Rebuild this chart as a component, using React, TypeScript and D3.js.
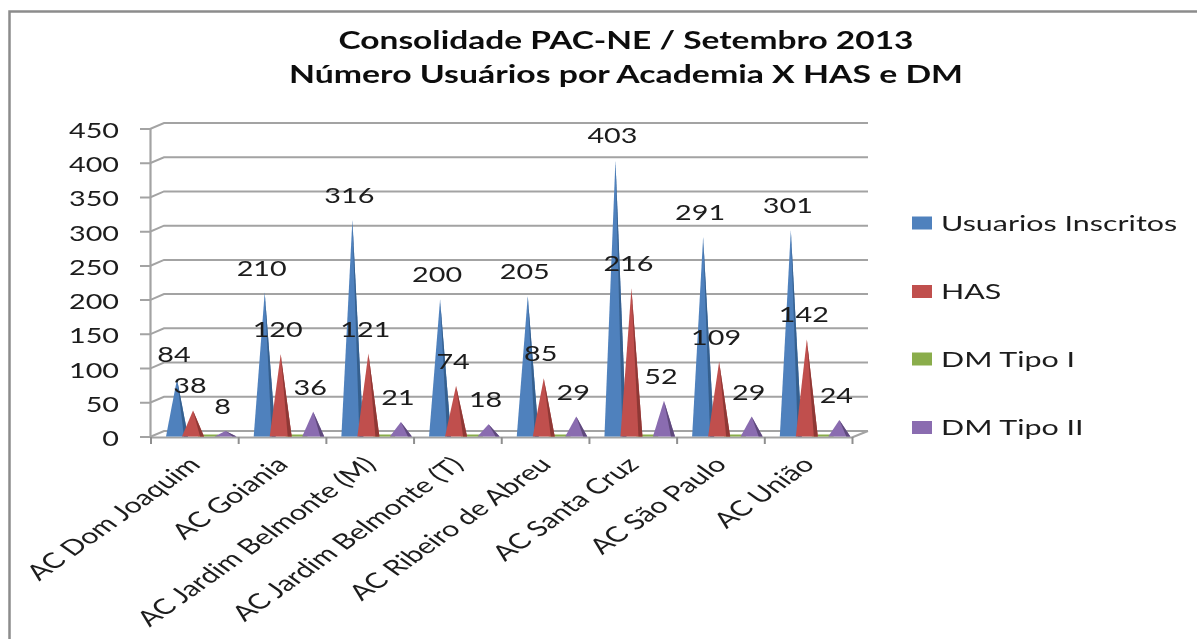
import React from "react";
import * as d3 from "d3";

const categories = ["AC Dom Joaquim", "AC Goiania", "AC Jardim Belmonte (M)", "AC Jardim Belmonte (T)", "AC Ribeiro de Abreu", "AC Santa Cruz", "AC São Paulo", "AC União"];
const usuarios = [84, 210, 316, 200, 205, 403, 291, 301];
const has = [38, 120, 121, 74, 85, 216, 109, 142];
const dmTipoI = [3, 3, 3, 3, 3, 3, 3, 3];
const dmTipoII = [8, 36, 21, 18, 29, 52, 29, 24];
const yTicks = [0, 50, 100, 150, 200, 250, 300, 350, 400, 450];
const titleLines = ["Consolidade PAC-NE / Setembro 2013", "Número Usuários por Academia X HAS e DM"];

const series = [
  { name: "Usuarios Inscritos", values: usuarios, color: "#4f81bd", dark: "#36608f", offset: 26, labelled: true, flat: false },
  { name: "DM Tipo I", values: dmTipoI, color: "#8aad4c", dark: "#6f8a3a", offset: 58, labelled: false, flat: true },
  { name: "HAS", values: has, color: "#c0504d", dark: "#8f3836", offset: 42, labelled: true, flat: false },
  { name: "DM Tipo II", values: dmTipoII, color: "#8a6cb0", dark: "#5f4a7c", offset: 74.5, labelled: true, flat: false },
];
const legendOrder = ["Usuarios Inscritos", "HAS", "DM Tipo I", "DM Tipo II"];
const legendY = [223, 291.5, 359, 427.5];

const W = 1197, H = 639;
const SX = 1.37;
const font = "Lato, Carlito, sans-serif";
const ink = "#1c1c1c";
const grid = "#a3a3a3";
const DX = 14, DY = -6;

const yFront = d3.scaleLinear().domain([0, 450]).range([437, 129]);
const yCone = d3.scaleLinear().domain([0, 450]).range([436.5, 128]);
const x = d3.scaleBand<string>().domain(categories).range([151, 852.5]);

function Stretched(p: { x: number; y: number; text: string; anchor?: string; size?: number; rotate?: number; weight?: number; sx?: number }) {
  const r = p.rotate ? ` rotate(${p.rotate})` : "";
  return (
    <text transform={`translate(${p.x},${p.y}) scale(${p.sx ?? SX},1)${r}`} textAnchor={p.anchor ?? "start"} fontFamily={font} fontSize={p.size ?? 21} fontWeight={p.weight ?? 400} fill={ink}>
      {p.text}
    </text>
  );
}

export default function App() {
  const halfBase = 11;
  return (
    <svg width={W} height={H} style={{ position: "fixed", left: 0, top: 0, background: "#fff" }}>
      <defs>
        <filter id="soft" x="0" y="0" width={W} height={H} filterUnits="userSpaceOnUse">
          <feGaussianBlur stdDeviation="0.45" />
        </filter>
      </defs>
      <g filter="url(#soft)">
        <path d={`M9.5,${H} V11.5 H${W}`} fill="none" stroke="#8c8c8c" strokeWidth={2.5} />

        {titleLines.map((t, i) => (
          <text key={t} x={626} y={48.5 + i * 34} textAnchor="middle" fontFamily={font} fontWeight={700} fontSize={24} fill="#111"
            textLength={i === 0 ? 575 : 674} lengthAdjust="spacingAndGlyphs">{t}</text>
        ))}

        {yTicks.map((t) => {
          const y = yFront(t);
          return (
            <g key={t}>
              <path d={`M140,${y} H150 L${150 + DX},${y + DY} H868`} fill="none" stroke={grid} strokeWidth={2} />
              <Stretched x={119} y={y + 9} text={String(t)} anchor="end" />
            </g>
          );
        })}
        <path d={`M150.5,129 V437`} stroke={grid} strokeWidth={2.2} />
        <path d={`M150,437.5 H852 L868,431`} fill="none" stroke={grid} strokeWidth={2.2} />
        {d3.range(categories.length + 1).map((i) => {
          const tx = 151 + i * x.bandwidth();
          return <path key={i} d={`M${tx},437 V444`} stroke="#8f8f8f" strokeWidth={2} />;
        })}

        {categories.map((c, ci) => (
          <g key={c}>
            {series.map((s) => {
              const cx = (x(c) as number) + s.offset;
              const top = yCone(s.values[ci]);
              const base = yCone(0);
              if (s.flat) {
                return <path key={s.name} d={`M${cx - halfBase},${top} H${cx + halfBase - 2} L${cx + halfBase},${base} H${cx - halfBase} Z`} fill={s.color} />;
              }
              return (
                <g key={s.name}>
                  <path d={`M${cx},${top} L${cx - halfBase},${base} H${cx + halfBase} Z`} fill={s.color} />
                  <path d={`M${cx},${top} L${cx + 7},${base} H${cx + halfBase} Z`} fill={s.dark} />
                </g>
              );
            })}
          </g>
        ))}

        {categories.map((c, ci) =>
          series.filter((s) => s.labelled).map((s) => (
            <Stretched key={c + s.name} x={(x(c) as number) + s.offset - 3} y={yCone(s.values[ci]) - 17} text={String(s.values[ci])} anchor="middle" />
          ))
        )}

        {categories.map((c) => (
          <Stretched key={c} x={(x(c) as number) + 51} y={466} text={c} anchor="end" rotate={-45} size={21.5} sx={1.41} />
        ))}

        {legendOrder.map((n, i) => {
          const s = series.find((d) => d.name === n)!;
          return (
            <g key={n}>
              <rect x={912} y={legendY[i] - 6.5} width={20} height={13} fill={s.color} />
              <Stretched x={941} y={legendY[i] + 7.5} text={n} sx={1.45} />
            </g>
          );
        })}
      </g>
    </svg>
  );
}
